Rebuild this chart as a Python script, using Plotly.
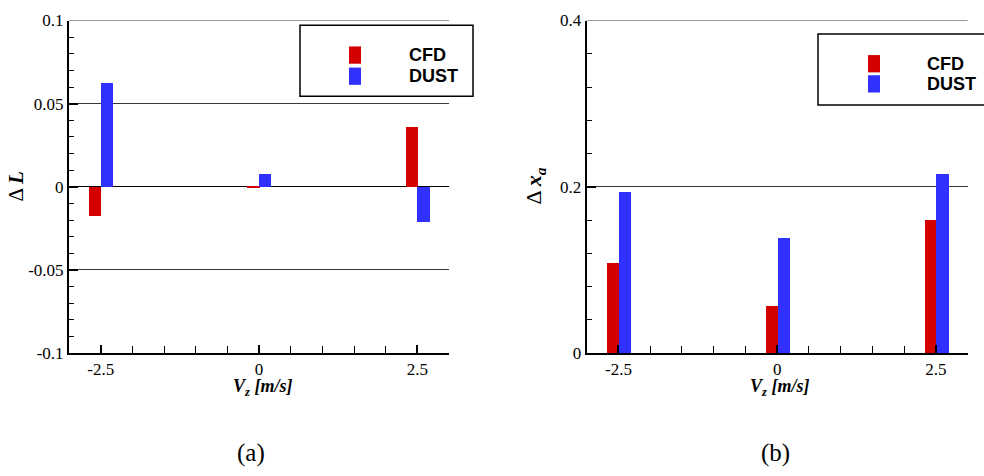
import plotly.graph_objects as go

# Vertical speed cases
vz = [-2.5, 0.0, 2.5]

# Panel (a): lift variation
dL_cfd = [-0.0173, 0.0004, 0.0364]
dL_dust = [0.0630, 0.0081, -0.0212]

# Panel (b): axial displacement variation
dxa_cfd = [0.109, 0.057, 0.161]
dxa_dust = [0.1946, 0.139, 0.2165]

x_tickvals = [-2.5, 0, 2.5]
x_ticktext = ["-2.5", "0", "2.5"]
ya_tickvals = [-0.1, -0.05, 0, 0.05, 0.1]
ya_ticktext = ["-0.1", "-0.05", "0", "0.05", "0.1"]
yb_tickvals = [0, 0.2, 0.4]
yb_ticktext = ["0", "0.2", "0.4"]

RED = "#d40000"
BLUE = "#3030ff"
W, H = 984, 476
SERIF = "'Liberation Serif', 'Times New Roman', Times, serif"
SANS = "'Liberation Sans', Arial, Helvetica, sans-serif"


def px(x):
    return x / W


def py(y):
    return 1 - y / H


fig = go.Figure()
bw = 0.195
for xa, ya, cfd, dust in (("x", "y", dL_cfd, dL_dust), ("x2", "y2", dxa_cfd, dxa_dust)):
    fig.add_trace(go.Bar(x=vz, y=cfd, width=bw, offset=-0.185, marker=dict(color=RED, line=dict(width=0)),
                         name="CFD", xaxis=xa, yaxis=ya, showlegend=False))
    fig.add_trace(go.Bar(x=vz, y=dust, width=bw, offset=0.0, marker=dict(color=BLUE, line=dict(width=0)),
                         name="DUST", xaxis=xa, yaxis=ya, showlegend=False))

tickfont = dict(family=SERIF, size=17, color="black")
common_x = dict(range=[-3, 3], showline=True, linecolor="black", linewidth=2, showgrid=False,
                zeroline=False, ticks="inside", ticklen=8, tickwidth=1.5, tickcolor="black",
                tickmode="array", tickvals=x_tickvals, ticktext=x_ticktext, tickfont=tickfont,
                minor=dict(tickmode="linear", tick0=0, dtick=0.5, ticks="inside", ticklen=7,
                           tickwidth=1, tickcolor="black", showgrid=False))
common_y = dict(showline=True, linecolor="black", linewidth=2, showgrid=True, gridcolor="#3a3a3a",
                gridwidth=1, ticks="inside", ticklen=9, tickwidth=1.5, tickcolor="black",
                tickmode="array", tickfont=tickfont)

ytop, ybot = 12, 358.3
fig.update_layout(
    width=W, height=H, margin=dict(l=0, r=0, t=0, b=0),
    paper_bgcolor="white", plot_bgcolor="white", barmode="overlay", bargap=0,
    xaxis=dict(domain=[px(69), px(449)], anchor="y", **common_x),
    yaxis=dict(domain=[py(ybot), py(ytop)], anchor="x", range=[-0.1, 0.1],
               tickvals=ya_tickvals, ticktext=ya_ticktext, zeroline=True, zerolinecolor="black",
               zerolinewidth=1.2,
               minor=dict(tickmode="linear", tick0=0, dtick=0.01, ticks="inside", ticklen=5,
                          tickwidth=1, tickcolor="black", showgrid=False),
               **common_y),
    xaxis2=dict(domain=[px(586.7), px(967.7)], anchor="y2", **common_x),
    yaxis2=dict(domain=[py(ybot), py(ytop)], anchor="x2", range=[0, 0.4],
                tickvals=yb_tickvals, ticktext=yb_ticktext, zeroline=False,
                minor=dict(tickmode="linear", tick0=0, dtick=0.04, ticks="inside", ticklen=5,
                           tickwidth=1, tickcolor="black", showgrid=False),
                **common_y),
)

shapes = []
annotations = []

# Top grid lines at the upper end of each y range
for xd, yr, yv in (("x domain", "y", 0.1), ("x2 domain", "y2", 0.4)):
    shapes.append(dict(type="line", xref=xd, yref=yr, x0=0, x1=1, y0=yv, y1=yv,
                       line=dict(color="#3a3a3a", width=1)))


# Legend boxes with swatches and labels
def legend(x0, x1, y0, y1, sx, sy_red, sy_blue, tx, ty_cfd, ty_dust):
    shapes.append(dict(type="rect", xref="paper", yref="paper", x0=px(x0), x1=px(x1),
                       y0=py(y1), y1=py(y0), line=dict(color="black", width=1.5),
                       fillcolor="white", layer="above"))
    shapes.append(dict(type="rect", xref="paper", yref="paper", x0=px(sx), x1=px(sx + 12),
                       y0=py(sy_red + 18), y1=py(sy_red), line=dict(width=0), fillcolor=RED,
                       layer="above"))
    shapes.append(dict(type="rect", xref="paper", yref="paper", x0=px(sx), x1=px(sx + 12),
                       y0=py(sy_blue + 18), y1=py(sy_blue), line=dict(width=0), fillcolor=BLUE,
                       layer="above"))
    for txt, ty in (("CFD", ty_cfd), ("DUST", ty_dust)):
        annotations.append(dict(xref="paper", yref="paper", x=px(tx), y=py(ty), text="<b>%s</b>" % txt,
                                showarrow=False, xanchor="left", yanchor="middle",
                                font=dict(family=SANS, size=18, color="black")))


legend(300, 473, 17, 91, 349, 39, 61, 407, 48, 70)
legend(818, 995, 26, 100, 868, 48, 69, 925, 57, 78)

# Axis titles
annotations.append(dict(xref="paper", yref="paper", x=px(16), y=py(185), textangle=-90,
                        text="Δ <b><i>L</i></b>", showarrow=False, xanchor="center", yanchor="middle",
                        font=dict(family=SERIF, size=21, color="black")))
annotations.append(dict(xref="paper", yref="paper", x=px(535), y=py(185), textangle=-90,
                        text="Δ <b><i>x</i></b><sub><b><i>a</i></b></sub>", showarrow=False,
                        xanchor="center", yanchor="middle",
                        font=dict(family=SERIF, size=22, color="black")))
for cx in (262, 779):
    annotations.append(dict(xref="paper", yref="paper", x=px(cx), y=py(394),
                            text="<b><i>V<sub>z</sub> [m/s]</i></b>", showarrow=False,
                            xanchor="center", yanchor="middle",
                            font=dict(family=SERIF, size=18, color="black")))

# Panel captions
for cx, lab in ((251, "(a)"), (775, "(b)")):
    annotations.append(dict(xref="paper", yref="paper", x=px(cx), y=py(462), text=lab,
                            showarrow=False, xanchor="center", yanchor="middle",
                            font=dict(family=SERIF, size=25, color="black")))

fig.update_layout(shapes=shapes, annotations=annotations)
fig.write_html("out.html")
